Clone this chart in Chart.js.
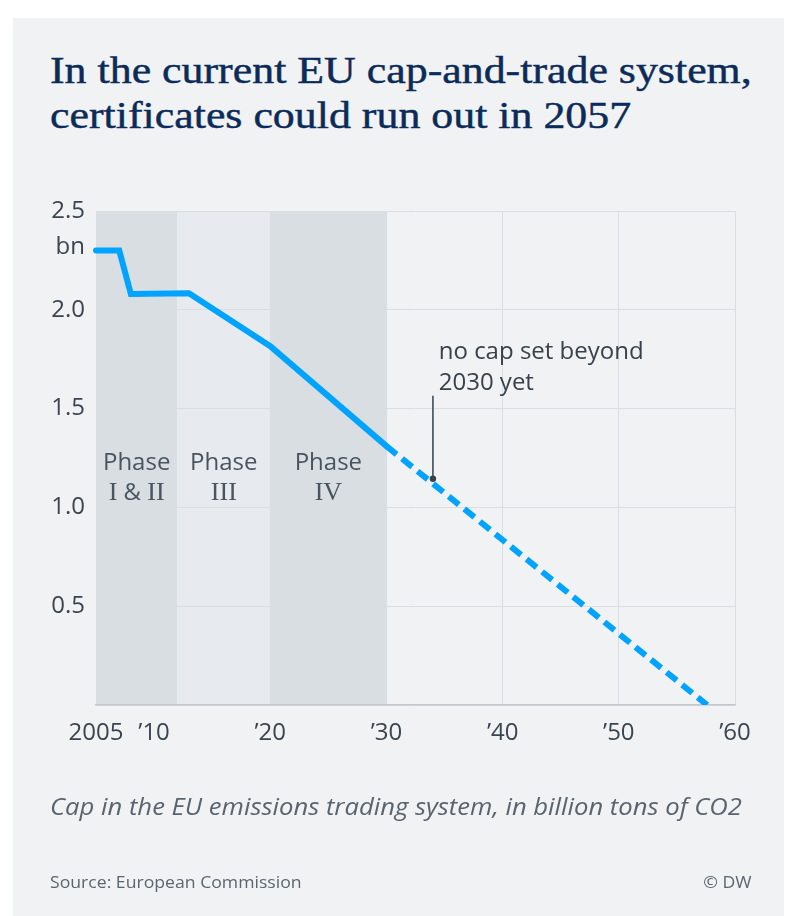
<!DOCTYPE html>
<html><head><meta charset="utf-8">
<script src="https://cdn.jsdelivr.net/npm/chart.js@4.4.1/dist/chart.umd.min.js"></script>
<style>
html,body{margin:0;padding:0;background:#fff;width:785px;height:916px;overflow:hidden}
#card{position:absolute;left:13px;top:18px;width:771px;height:898px;background:#f1f2f4}
.t{position:absolute;white-space:nowrap;display:inline-block;transform-origin:0 0}
.title{left:50px;font-family:'Liberation Serif',serif;font-size:38px;line-height:45px;color:#0b2b5a;-webkit-text-stroke:0.45px #0b2b5a}
#cap{left:50px;top:791px;font-family:'Open Sans',sans-serif;font-style:italic;font-size:23px;line-height:30px;color:#59646e}
#src{left:50px;top:871px;font-family:'Open Sans',sans-serif;font-size:17px;line-height:22px;color:#5b6670}
#dw{top:871px;font-family:'Open Sans',sans-serif;font-size:17px;line-height:22px;color:#5b6670;transform-origin:100% 0}
#c{position:absolute;left:0;top:0}
</style></head>
<body>
<div id="card"></div>
<div class="t title" id="t1" style="top:48px">In the current EU cap-and-trade system,</div>
<div class="t title" id="t2" style="top:93px">certificates could run out in 2057</div>
<canvas id="c" width="785" height="916"></canvas>
<div class="t" id="cap">Cap in the EU emissions trading system, in billion tons of CO2</div>
<div class="t" id="src">Source: European Commission</div>
<div class="t" id="dw">© DW</div>
<script>
// ---- data ----
const capYears = [2005, 2007, 2008, 2013, 2020, 2030];
const capValues = [2.3, 2.3, 2.08, 2.084, 1.816, 1.31];
const projYears = [2030, 2057.6];
const projValues = [1.31, 0];
const phaseNames = [['Phase', 'I & II'], ['Phase', 'III'], ['Phase', 'IV']];
const phaseStart = [2005, 2012, 2020];
const phaseEnd = [2012, 2020, 2030];
const xTickValues = [2005, 2010, 2020, 2030, 2040, 2050, 2060];
const xTickLabels = ['2005', '’10', '’20', '’30', '’40', '’50', '’60'];
const yTickValues = [0, 0.5, 1, 1.5, 2, 2.5];
const yTickLabels = ['', '0.5', '1.0', '1.5', '2.0', '2.5'];
const yUnit = 'bn';
const noteLines = ['no cap set beyond', '2030 yet'];
const noteYear = 2034;
const noteValue = 1.145;

// ---- styling / layout ----
const SANS = "24px 'Open Sans'";
const LINE = '#00a4ff';
const phaseFill = ['#d9dee3', '#e7eaee', '#d9dee3'];
const phaseLabelY = [1.222, 1.07];
const noteTextY = [1.787, 1.63];
const noteTop = 1.565;
const noteTextX = 2034.5;

function drawMixed(ctx, text, cx, cy) {
  const runs = text.match(/[IV]+|[^IV]+/g);
  const f = r => /[IV]/.test(r) ? "26px 'Liberation Serif'" : SANS;
  let total = 0;
  const w = runs.map(r => { ctx.font = f(r); const m = ctx.measureText(r).width; total += m; return m; });
  let x = cx - total / 2;
  ctx.textAlign = 'left'; ctx.textBaseline = 'middle';
  runs.forEach((r, i) => { ctx.font = f(r); ctx.fillText(r, x, cy); x += w[i]; });
}

const plug = {
  id: 'extras',
  beforeDraw(chart) {
    const { ctx, chartArea: a, scales: { x } } = chart;
    ctx.save();
    phaseStart.forEach((s, i) => {
      const x0 = x.getPixelForValue(s), x1 = x.getPixelForValue(phaseEnd[i]);
      ctx.fillStyle = phaseFill[i];
      ctx.fillRect(x0, a.top, x1 - x0, a.bottom - a.top);
    });
    ctx.restore();
  },
  beforeDatasetsDraw(chart) {
    const { ctx, scales: { x, y } } = chart;
    ctx.save();
    ctx.fillStyle = '#4a545e';
    phaseNames.forEach((lines, i) => {
      const cx = (x.getPixelForValue(phaseStart[i]) + x.getPixelForValue(phaseEnd[i])) / 2;
      lines.forEach((t, j) => drawMixed(ctx, t, cx, y.getPixelForValue(phaseLabelY[j])));
    });
    ctx.restore();
  },
  afterDraw(chart) {
    const { ctx, chartArea: a, scales: { x, y } } = chart;
    ctx.save();
    ctx.font = SANS; ctx.fillStyle = '#3a4550'; ctx.textAlign = 'right'; ctx.textBaseline = 'middle';
    ctx.fillText(yUnit, a.left - 11, y.getPixelForValue(2.5) + 36);
    ctx.fillStyle = '#39424b'; ctx.textAlign = 'left';
    noteLines.forEach((t, i) => ctx.fillText(t, x.getPixelForValue(noteTextX), y.getPixelForValue(noteTextY[i])));
    const px = x.getPixelForValue(noteYear);
    ctx.strokeStyle = '#39424b'; ctx.lineWidth = 1.5;
    ctx.beginPath(); ctx.moveTo(px, y.getPixelForValue(noteTop)); ctx.lineTo(px, y.getPixelForValue(noteValue)); ctx.stroke();
    ctx.beginPath(); ctx.arc(px, y.getPixelForValue(noteValue), 3.2, 0, Math.PI * 2); ctx.fill();
    ctx.restore();
  }
};

new Chart(document.getElementById('c'), {
  type: 'line',
  data: {
    datasets: [
      { data: capYears.map((v, i) => ({ x: v, y: capValues[i] })), borderColor: LINE, borderWidth: 6,
        borderCapStyle: 'round', borderJoinStyle: 'miter', pointRadius: 0, tension: 0, clip: { left: 6, top: 6, right: 6, bottom: 0 } },
      { data: projYears.map((v, i) => ({ x: v, y: projValues[i] })), borderColor: LINE, borderWidth: 6,
        borderDash: [13, 7], borderCapStyle: 'butt', pointRadius: 0, tension: 0, clip: { left: 6, top: 6, right: 6, bottom: 0 } }
    ]
  },
  options: {
    responsive: false, animation: false, devicePixelRatio: 1,
    layout: { padding: { left: 0, right: 50, top: 211, bottom: 0 } },
    plugins: { legend: { display: false }, tooltip: { enabled: false } },
    scales: {
      x: {
        type: 'linear', min: 2005, max: 2060,
        afterBuildTicks: s => { s.ticks = xTickValues.map(v => ({ value: v })); },
        afterFit: s => { s.height = 211; },
        grid: { color: '#dadee2', lineWidth: 1, drawTicks: false },
        border: { display: true, color: '#c3c8ce', width: 1.5 },
        ticks: { padding: 14, color: '#3a4550', font: { family: 'Open Sans', size: 24 }, maxRotation: 0, autoSkip: false,
          callback: v => { const i = xTickValues.indexOf(v); return i < 0 ? '' : xTickLabels[i]; } }
      },
      y: {
        min: 0, max: 2.5,
        afterBuildTicks: s => { s.ticks = yTickValues.map(v => ({ value: v })); },
        afterFit: s => { s.width = 96; },
        grid: { color: '#dadee2', lineWidth: 1, drawTicks: false },
        border: { display: false },
        ticks: { padding: 11, color: '#3a4550', font: { family: 'Open Sans', size: 24 },
          callback: v => { const i = yTickValues.indexOf(v); return i < 0 ? '' : yTickLabels[i]; } }
      }
    }
  },
  plugins: [plug]
});

function fit(el, target) { const w = el.offsetWidth; el.style.transform = 'scaleX(' + (target / w) + ')'; return target / w; }
const k = fit(document.getElementById('t1'), 702);
document.getElementById('t2').style.transform = 'scaleX(' + k + ')';
fit(document.getElementById('cap'), 692);
const ks = fit(document.getElementById('src'), 252);
const dw = document.getElementById('dw');
dw.style.left = (752 - dw.offsetWidth) + 'px';
dw.style.transform = 'scaleX(' + ks + ')';
</script>
</body></html>
